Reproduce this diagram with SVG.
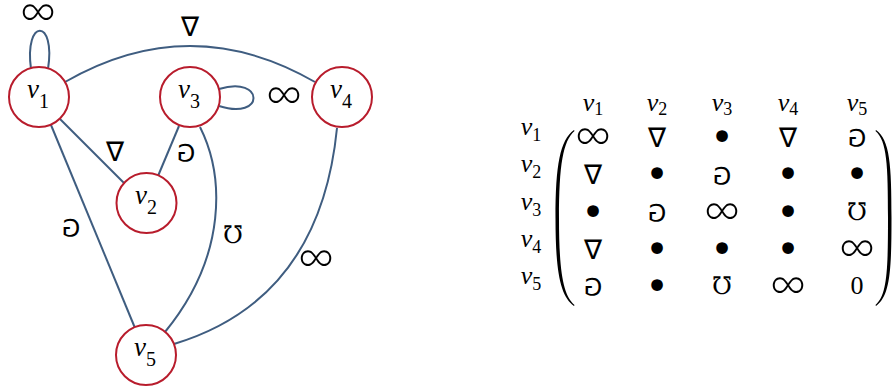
<svg xmlns="http://www.w3.org/2000/svg" width="893" height="387" viewBox="0 0 893 387">
<style>
.node circle{fill:#fff;stroke:#b81c2c;stroke-width:2}
.edge{fill:none;stroke:#3f5d80;stroke-width:2}
.nl{font-family:"Liberation Serif",serif;font-size:27px;text-anchor:middle;fill:#000}
.it{font-style:italic}
.sub{font-size:20px}
.ml{font-family:"Liberation Serif",serif;font-size:26px;text-anchor:middle;fill:#000}
.msub{font-size:18px}
.sym{font-family:"DejaVu Sans",sans-serif;text-anchor:middle;fill:#000;dominant-baseline:central}
.inf{font-family:"Lato","Liberation Serif",serif;font-weight:300;font-size:50px}
.nab{font-size:27px}
.bul{font-size:40px}
.game{font-size:24px}
.mho{font-family:"DejaVu Serif",serif;font-size:24px}
.zero{font-family:"Liberation Serif",serif;font-size:26px;text-anchor:middle;fill:#000;dominant-baseline:central}
.paren{fill:#000;stroke:none}
</style>
<g id="edges">
<path class="edge" d="M31,69 C24,18 56,18 48,69"/>
<path class="edge" d="M65,82 Q190,10 315,82"/>
<path class="edge" d="M219,89 C265,75 265,121 219,106"/>
<line class="edge" x1="60" y1="119" x2="124" y2="183"/>
<line class="edge" x1="179" y1="126" x2="158" y2="176"/>
<line class="edge" x1="51" y1="125" x2="135" y2="328"/>
<path class="edge" d="M200,127 C224,175 228,255 165,332"/>
<path class="edge" d="M337,128 Q320,300 174,344"/>
</g>
<g id="edge-labels">
<text class="sym inf" x="38" y="8">∞</text>
<text class="sym nab" x="190" y="26">∇</text>
<text class="sym inf" x="284" y="91">∞</text>
<text class="sym nab" x="115" y="151">∇</text>
<text class="sym game" transform="translate(186,152) scale(1,-1)">⅁</text>
<text class="sym game" transform="translate(71,227) scale(1,-1)">⅁</text>
<text class="sym mho" x="233" y="235">℧</text>
<text class="sym inf" x="316" y="254">∞</text>
</g>
<g id="v1" class="node"><circle cx="39" cy="97" r="30"/><text class="nl" x="38" y="98"><tspan class="it">v</tspan><tspan class="sub" dy="10">1</tspan></text></g>
<g id="v2" class="node"><circle cx="146.5" cy="203" r="30"/><text class="nl" x="146" y="204"><tspan class="it">v</tspan><tspan class="sub" dy="10">2</tspan></text></g>
<g id="v3" class="node"><circle cx="190" cy="97" r="30"/><text class="nl" x="189" y="98"><tspan class="it">v</tspan><tspan class="sub" dy="10">3</tspan></text></g>
<g id="v4" class="node"><circle cx="342" cy="97" r="30"/><text class="nl" x="341" y="98"><tspan class="it">v</tspan><tspan class="sub" dy="10">4</tspan></text></g>
<g id="v5" class="node"><circle cx="146" cy="355" r="30"/><text class="nl" x="145" y="356"><tspan class="it">v</tspan><tspan class="sub" dy="10">5</tspan></text></g>
<g id="matrix">
<g id="col-headers">
<text class="ml" x="593" y="111"><tspan class="it">v</tspan><tspan class="msub" dy="4">1</tspan></text>
<text class="ml" x="657" y="111"><tspan class="it">v</tspan><tspan class="msub" dy="4">2</tspan></text>
<text class="ml" x="722" y="111"><tspan class="it">v</tspan><tspan class="msub" dy="4">3</tspan></text>
<text class="ml" x="788" y="111"><tspan class="it">v</tspan><tspan class="msub" dy="4">4</tspan></text>
<text class="ml" x="857" y="111"><tspan class="it">v</tspan><tspan class="msub" dy="4">5</tspan></text>
</g>
<g id="row-headers">
<text class="ml" x="531" y="135"><tspan class="it">v</tspan><tspan class="msub" dy="6">1</tspan></text>
<text class="ml" x="531" y="172"><tspan class="it">v</tspan><tspan class="msub" dy="6">2</tspan></text>
<text class="ml" x="531" y="210"><tspan class="it">v</tspan><tspan class="msub" dy="6">3</tspan></text>
<text class="ml" x="531" y="247"><tspan class="it">v</tspan><tspan class="msub" dy="6">4</tspan></text>
<text class="ml" x="531" y="284"><tspan class="it">v</tspan><tspan class="msub" dy="6">5</tspan></text>
</g>
<path class="paren" d="M574,130 C560,140 555.5,165 555.5,218 C555.5,271 560,296 574,306 L574.5,305 C563,295 559,271 559,218 C559,165 563,141 574.5,131 Z"/>
<path class="paren" d="M876,130 C890,140 891.5,165 891.5,218 C891.5,271 890,296 876,306 L875.5,305 C887,295 888,271 888,218 C888,165 887,141 875.5,131 Z"/>
<g id="entries">
<text class="sym inf" x="593" y="132">∞</text>
<text class="sym nab" x="657" y="137">∇</text>
<text class="sym bul" x="722" y="137">•</text>
<text class="sym nab" x="788" y="137">∇</text>
<text class="sym game" transform="translate(857,137) scale(1,-1)">⅁</text>

<text class="sym nab" x="593" y="174">∇</text>
<text class="sym bul" x="657" y="174">•</text>
<text class="sym game" transform="translate(722,175) scale(1,-1)">⅁</text>
<text class="sym bul" x="788" y="174">•</text>
<text class="sym bul" x="857" y="174">•</text>

<text class="sym bul" x="593" y="212">•</text>
<text class="sym game" transform="translate(657,212) scale(1,-1)">⅁</text>
<text class="sym inf" x="722" y="207">∞</text>
<text class="sym bul" x="788" y="212">•</text>
<text class="sym mho" x="857" y="212">℧</text>

<text class="sym nab" x="593" y="249">∇</text>
<text class="sym bul" x="657" y="249">•</text>
<text class="sym bul" x="722" y="249">•</text>
<text class="sym bul" x="788" y="249">•</text>
<text class="sym inf" x="857" y="244">∞</text>

<text class="sym game" transform="translate(593,286) scale(1,-1)">⅁</text>
<text class="sym bul" x="657" y="286">•</text>
<text class="sym mho" x="722" y="286">℧</text>
<text class="sym inf" x="788" y="281">∞</text>
<text class="zero" x="857" y="285">0</text>
</g>
</g>
</svg>
